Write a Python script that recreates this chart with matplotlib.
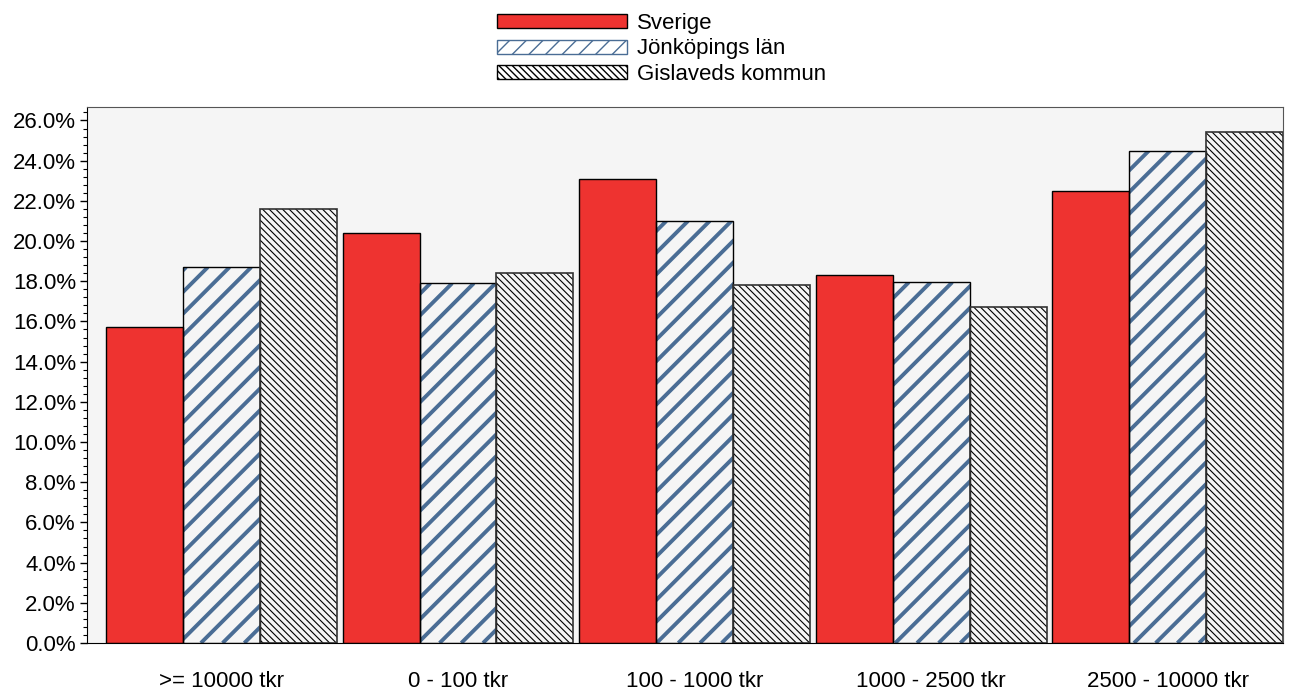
import matplotlib.pyplot as plt
import numpy as np
from matplotlib.ticker import MultipleLocator, FuncFormatter
from matplotlib.patches import Patch
from matplotlib.collections import LineCollection
from matplotlib.transforms import IdentityTransform

plt.rcParams['font.family'] = ['Liberation Sans', 'DejaVu Sans']

# data
categories = ['>= 10000 tkr', '0 - 100 tkr', '100 - 1000 tkr', '1000 - 2500 tkr', '2500 - 10000 tkr']
sverige = [15.7, 20.4, 23.1, 18.3, 22.5]
jonkoping = [18.7, 17.9, 21.0, 17.95, 24.5]
gislaved = [21.6, 18.4, 17.8, 16.7, 25.45]
series_names = ['Sverige', 'Jönköpings län', 'Gislaveds kommun']

red = '#EE3330'
blue = '#4A6D95'
bg = '#F5F5F5'
stripe_step = 21.7  # px, horizontal distance between blue stripes

fig = plt.figure(figsize=(12.9, 6.92), dpi=100)
ax = fig.add_axes([87/1290, 1 - 643/692, (1283-87)/1290, (643-107)/692])
ax.set_facecolor(bg)
ax.set_xlim(-0.568, 4.487)
ax.set_ylim(0, 26.67)

x = np.arange(len(categories))
w = 0.325

ax.bar(x - w, sverige, w, color=red, edgecolor='black', linewidth=1, zorder=2)

# Jönköping: light bar + thick blue diagonal stripes clipped to the bar
bars_j = ax.bar(x, jonkoping, w, color=bg, linewidth=0, zorder=1)
for b in bars_j:
    bb = b.get_window_extent()
    d0 = np.floor((bb.x0 - bb.y1) / stripe_step) * stripe_step
    ds = np.arange(d0, bb.x1 - bb.y0 + stripe_step, stripe_step)
    segs = [[(bb.y0 + d, bb.y0), (bb.y1 + d, bb.y1)] for d in ds]
    lc = LineCollection(segs, colors=blue, linewidths=2.8, transform=IdentityTransform(), zorder=1.5)
    ax.add_collection(lc, autolim=False)
    lc.set_clip_path(b)  # after add_collection, otherwise the axes clip replaces it
ax.bar(x, jonkoping, w, fill=False, edgecolor='black', linewidth=1, zorder=2)

ax.bar(x + w, gislaved, w, color=bg, edgecolor='black', linewidth=0, hatch='\\' * 5,
       hatch_linewidth=0.8, zorder=1)
ax.bar(x + w, gislaved, w, fill=False, edgecolor='#333333', linewidth=1.2, zorder=2)

ax.set_xticks(x)
ax.set_xticklabels(categories, fontsize=16)
ax.tick_params(axis='x', length=0, pad=20)
ax.yaxis.set_major_locator(MultipleLocator(2))
ax.yaxis.set_minor_locator(MultipleLocator(0.4))
ax.yaxis.set_major_formatter(FuncFormatter(lambda v, p: f'{v:.1f}%'))
ax.tick_params(axis='y', which='major', length=5, width=1, labelsize=16, pad=3)
ax.tick_params(axis='y', which='minor', length=3, width=0.8)
for s in ['top', 'right']:
    ax.spines[s].set_color('#555555')
    ax.spines[s].set_linewidth(0.8)

# legend
handles = [
    Patch(facecolor=red, edgecolor='black', linewidth=1),
    Patch(facecolor='white', edgecolor=blue, hatch='//', linewidth=1, hatch_linewidth=3.5),
    Patch(facecolor='white', edgecolor='black', hatch='\\' * 5, linewidth=1, hatch_linewidth=0.8),
]
fig.legend(handles, series_names, loc='upper left', bbox_to_anchor=(497/1290, 1 - 13/692),
           frameon=False, fontsize=16, handlelength=5.85, handleheight=0.6,
           labelspacing=0.2, handletextpad=0.45, borderpad=0, borderaxespad=0)

fig.savefig('out.png', dpi=100)
